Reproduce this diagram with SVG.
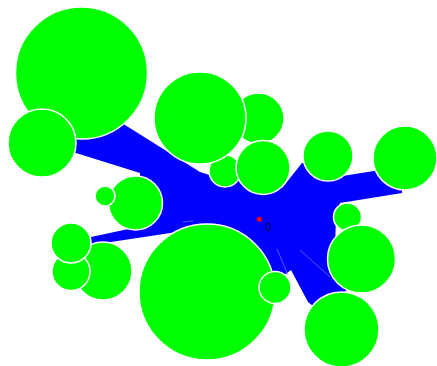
<svg xmlns="http://www.w3.org/2000/svg" width="437" height="366" viewBox="0 0 437 366">
<style>
.node circle{fill:#00ff00;stroke:#ffffff;stroke-width:1.5}
.link{fill:#0000ff;stroke:none}
.trace{stroke:#8080ff;stroke-width:0.7;fill:none}
.lbl{font-family:"Liberation Sans",Arial,sans-serif;font-size:11px;fill:#000033}
</style>
<rect width="437" height="366" fill="#ffffff"/>
<g id="connectors">
<polygon class="link" points="110,115 125,125 200,172 225,180 240,175 263,185 282,188 302,163 315,165 330,178 380,170 400,180 402,186 402,193 340,203 336,215 335,250 348,288 346,291 318,304 313,306 308,302 291,270 278,280 240,250 205,228 177,232 91,245 72,248 72,238 91,237 133,228 140,180 140,173 76,153 58,150 58,139 100,133"/>
<line class="trace" x1="277" y1="249" x2="288" y2="275"/>
<line class="trace" x1="300" y1="250" x2="330" y2="277"/>
<line class="trace" x1="183" y1="222" x2="193" y2="221"/>
</g>
<g id="n1" class="node"><circle cx="81.5" cy="73" r="66"/></g>
<g id="n2" class="node"><circle cx="42" cy="143" r="34"/></g>
<g id="n4" class="node"><circle cx="258.5" cy="118.5" r="25.5"/></g>
<g id="n6" class="node"><circle cx="225" cy="171" r="16"/></g>
<g id="n3" class="node"><circle cx="200" cy="118" r="46"/></g>
<g id="n5" class="node"><circle cx="263" cy="167.5" r="27"/></g>
<g id="n7" class="node"><circle cx="328" cy="156" r="25"/></g>
<g id="n8" class="node"><circle cx="405" cy="158" r="32"/></g>
<g id="n10" class="node"><circle cx="135.5" cy="203" r="27"/></g>
<g id="n9" class="node"><circle cx="105" cy="196" r="10"/></g>
<g id="n13" class="node"><circle cx="103" cy="271" r="29"/></g>
<g id="n12" class="node"><circle cx="71" cy="271.5" r="19"/></g>
<g id="n11" class="node"><circle cx="71" cy="243" r="20"/></g>
<g id="n14" class="node"><circle cx="207" cy="292" r="68"/></g>
<g id="n15" class="node"><circle cx="275" cy="287.5" r="16"/></g>
<g id="n16" class="node"><circle cx="341.5" cy="329.5" r="37.5"/></g>
<g id="n18" class="node"><circle cx="347.5" cy="217" r="14"/></g>
<g id="n17" class="node"><circle cx="361.5" cy="259" r="34"/></g>
<g id="n0"><circle cx="259.3" cy="219.3" r="2.5" fill="#ff0000"/><text class="lbl" x="265.3" y="230.5">0</text></g>
</svg>
